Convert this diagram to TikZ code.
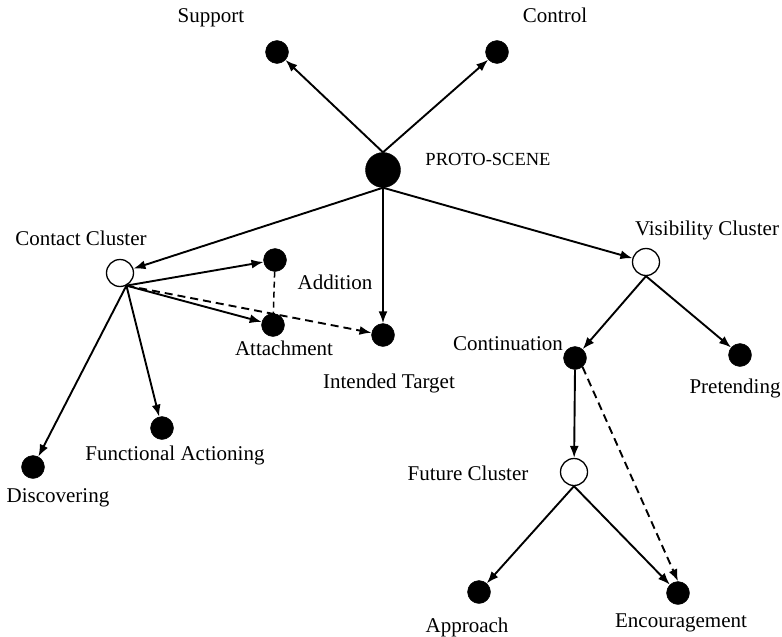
\documentclass[tikz,border=0pt]{standalone}
\usepackage{fontspec}
\setmainfont{Liberation Serif}
\usetikzlibrary{arrows.meta}
\begin{document}
\begin{tikzpicture}[x=1pt,y=-1pt,
  dot/.style={circle,fill=black,draw=black,inner sep=0pt,minimum size=23pt},
  bigdot/.style={dot,minimum size=35pt},
  hub/.style={circle,fill=white,draw=black,line width=1.3pt,inner sep=0pt,minimum size=27pt},
  lbl/.style={anchor=base,font=\fontsize{21}{23}\selectfont,inner sep=0pt},
  link/.style={line width=1.9pt,-{Latex[length=12pt,width=9pt]}},
  dlink/.style={link,dash pattern=on 8pt off 5pt},
  tie/.style={line width=1.5pt,dash pattern=on 6pt off 4pt}]
\useasboundingbox (0,0) rectangle (782,637);

% nodes
\node[bigdot] (proto) at (383,170) {};
\node[dot] (support) at (277,52) {};
\node[dot] (control) at (497,52) {};
\node[hub] (contact) at (120,273) {};
\node[dot] (addition) at (275,260) {};
\node[dot] (attach) at (273,325) {};
\node[dot] (target) at (383,335) {};
\node[dot] (func) at (162,428) {};
\node[dot] (disc) at (33,467) {};
\node[hub] (vis) at (646,262) {};
\node[dot] (cont) at (575,358) {};
\node[dot] (pret) at (740,355) {};
\node[hub] (future) at (574,472) {};
\node[dot] (appr) at (479,592) {};
\node[dot] (enc) at (678,593) {};

% labels
\node[lbl] (lsupport) at (211,23) {Support};
\node[lbl] (lcontrol) at (555,23) {Control};
\node[lbl,font=\fontsize{18.5}{20}\selectfont] (lproto) at (488,165) {PROTO-SCENE};
\node[lbl] (lcontact) at (81,245) {Contact Cluster};
\node[lbl] (laddition) at (335,289) {Addition};
\node[lbl] (lattach) at (284,355) {Attachment};
\node[lbl] (ltarget) at (389,388) {Intended Target};
\node[lbl] (lfunc) at (175,460) {Functional Actioning};
\node[lbl] (ldisc) at (58,502) {Discovering};
\node[lbl] (lvis) at (707,235) {Visibility Cluster};
\node[lbl] (lcont) at (508,350) {Continuation};
\node[lbl] (lpret) at (735,393) {Pretending};
\node[lbl] (lfuture) at (468,480) {Future Cluster};
\node[lbl] (lappr) at (467,632) {Approach};
\node[lbl] (lenc) at (681,627) {Encouragement};

% connectors
\draw[link] (proto.north) -- (support);
\draw[link] (proto.north) -- (control);
\draw[link] (proto.south) -- (contact);
\draw[link] (proto.south) -- (target);
\draw[link] (proto.south) -- (vis);

\coordinate (cfoot) at (contact.-63);
\draw[link] (cfoot) -- (addition);
\draw[link] (cfoot) -- (attach);
\draw[dlink] (cfoot) -- (target);
\draw[tie] (addition) -- (attach);
\draw[link] (cfoot) -- (func);
\draw[link] (cfoot) -- (disc);

\draw[link] (vis.south) -- (cont);
\draw[link] (vis.south) -- (pret);
\draw[link] (cont.south) -- (future);
\draw[dlink] (cont.-50) -- (enc.north);
\draw[link] (future.south) -- (appr);
\draw[link] (future.south) -- (enc);
\end{tikzpicture}
\end{document}
